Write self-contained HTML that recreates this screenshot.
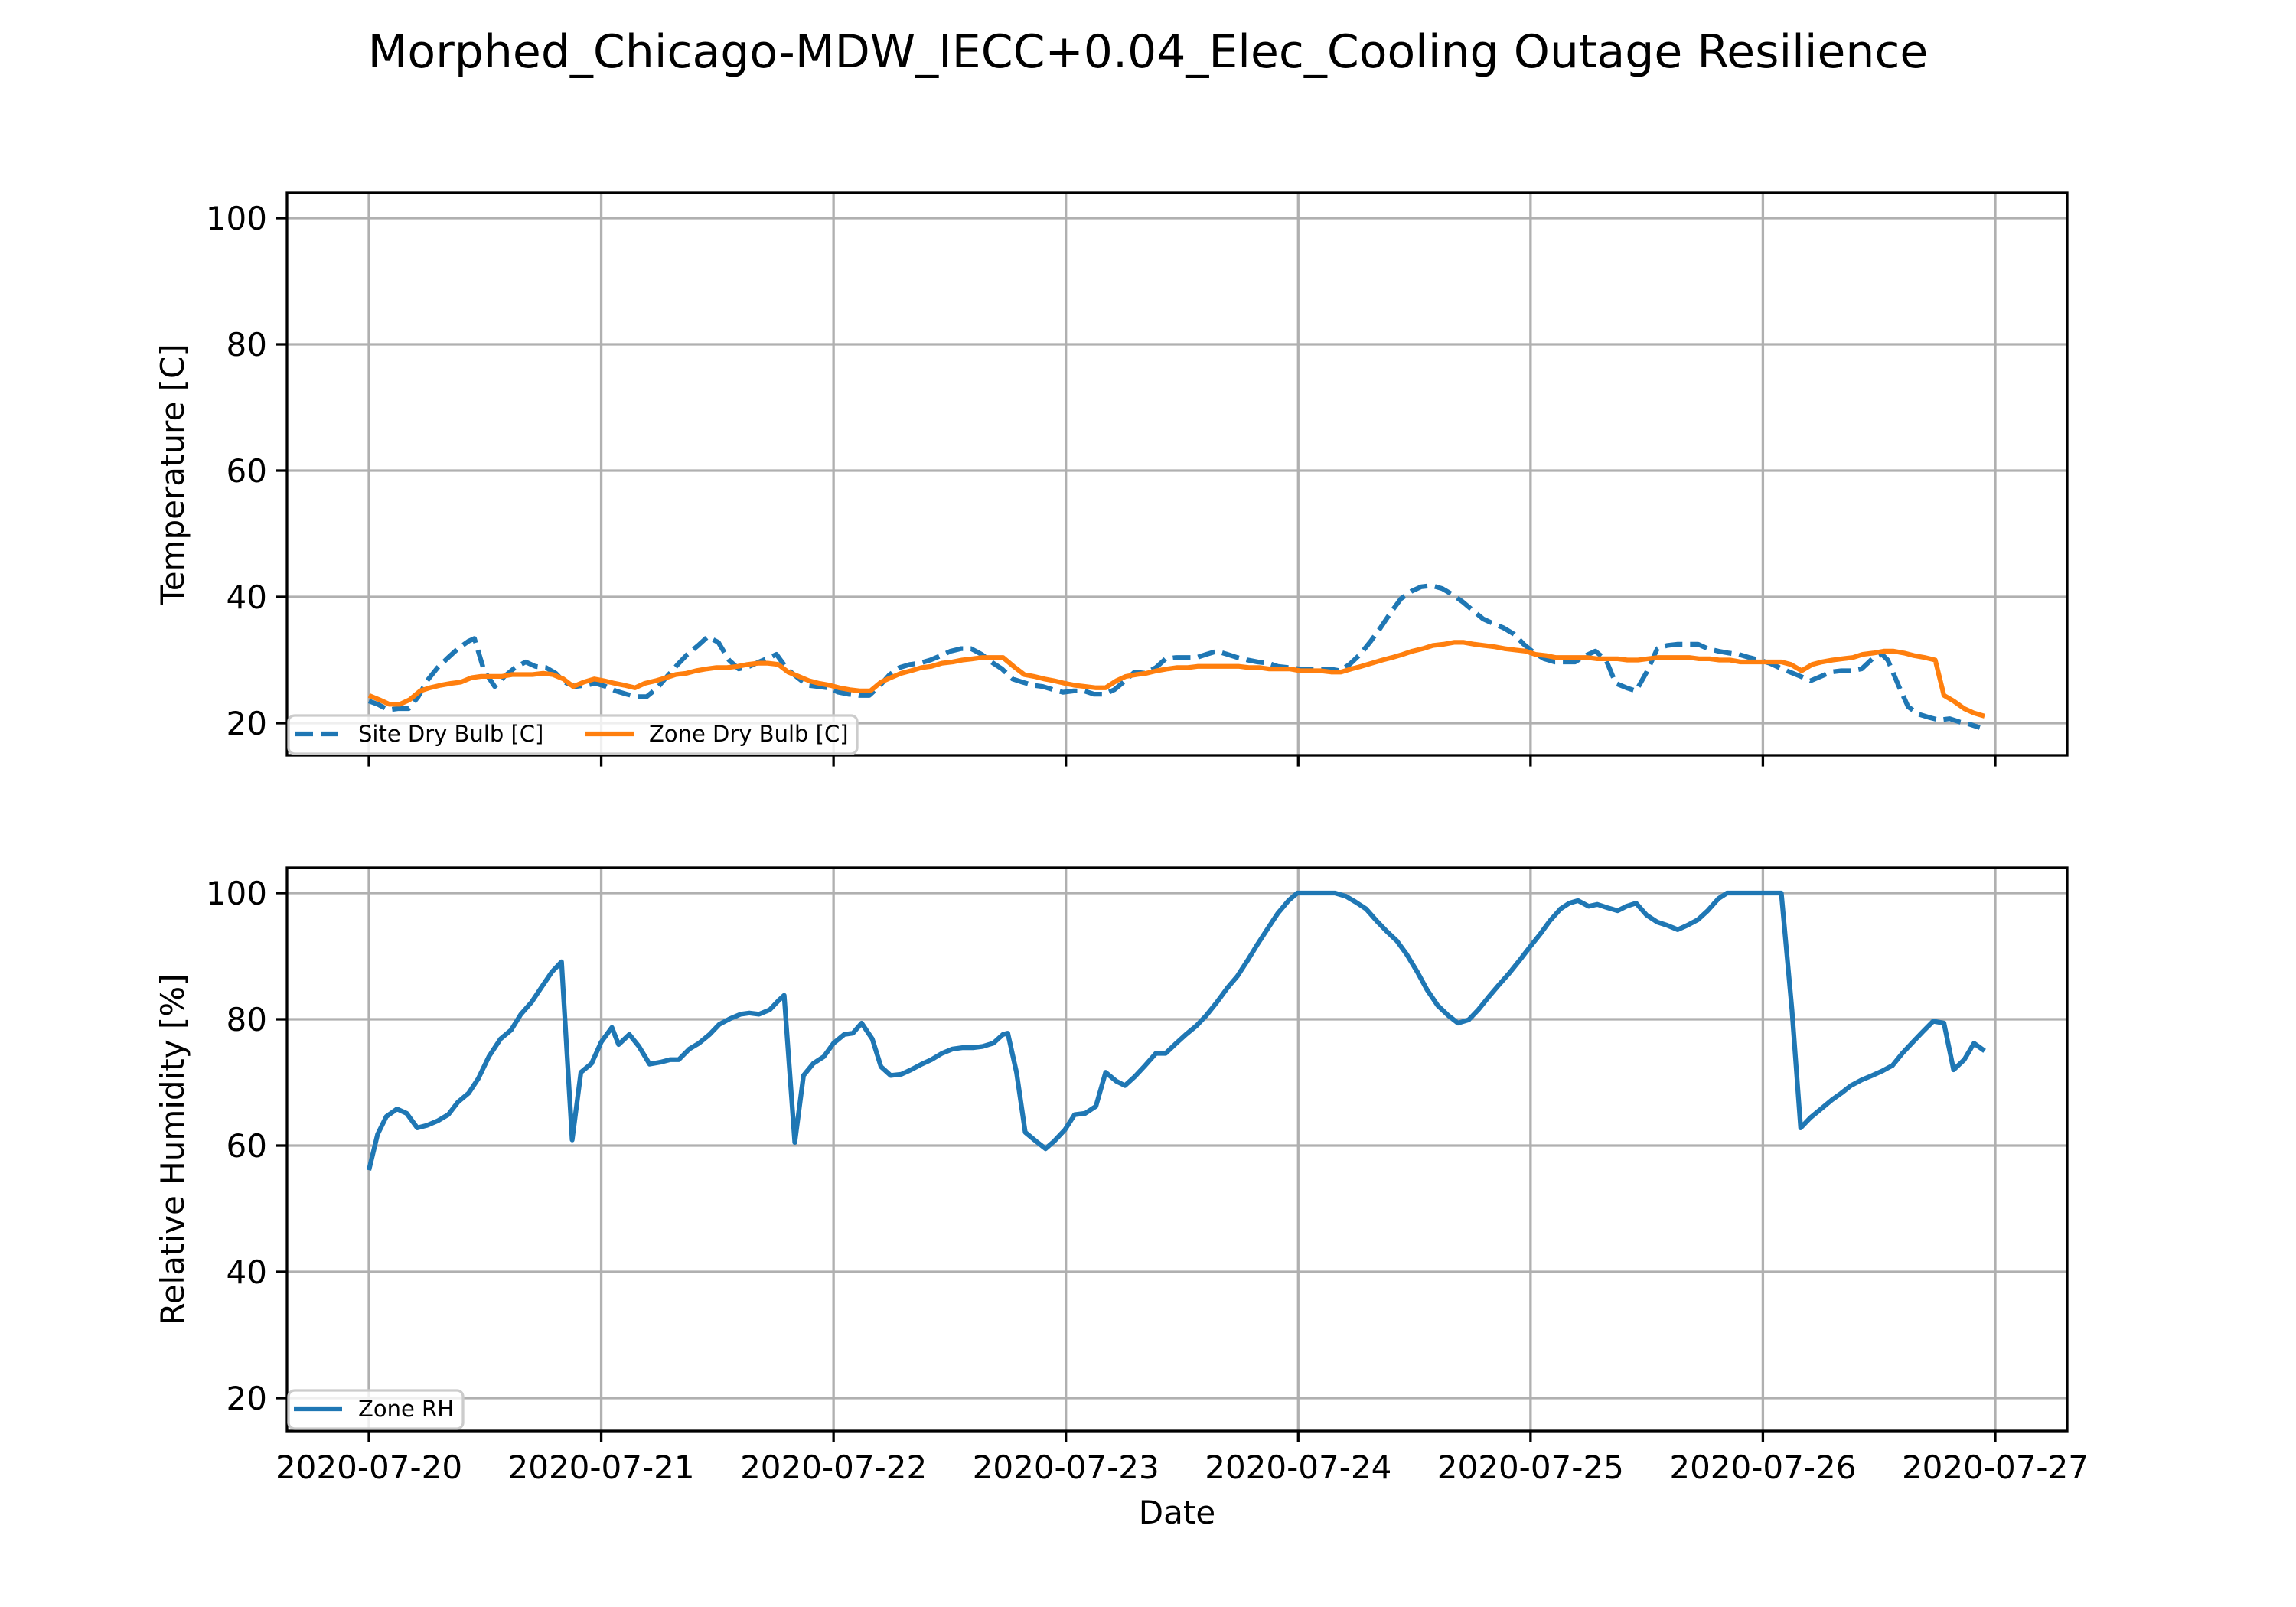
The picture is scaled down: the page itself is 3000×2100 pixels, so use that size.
<!DOCTYPE html>
<html><head><meta charset="utf-8"><title>Outage Resilience</title>
<style>html,body{margin:0;padding:0;background:#fff}svg{display:block}text{font-family:"DejaVu Sans","Liberation Sans",sans-serif}</style>
</head><body>
<svg id="fig" xmlns="http://www.w3.org/2000/svg" width="3000" height="2100" viewBox="0 0 3000 2100">
<rect width="3000" height="2100" fill="#fff"/>
<text x="1500" y="88" font-size="60" text-anchor="middle">Morphed_Chicago-MDW_IECC+0.04_Elec_Cooling Outage Resilience</text>
<g id="top"></g>
<g id="bot"></g>
<text x="1538" y="1991" font-size="42" text-anchor="middle">Date</text>
<text transform="translate(240,620) rotate(-90)" font-size="42" text-anchor="middle">Temperature [C]</text>
<text transform="translate(240,1502) rotate(-90)" font-size="42" text-anchor="middle">Relative Humidity [%]</text>
</svg>
<script>
const xTickLabels = ["2020-07-20","2020-07-21","2020-07-22","2020-07-23","2020-07-24","2020-07-25","2020-07-26","2020-07-27"];
const yTicks = [20,40,60,80,100];
const rhHours = [0,0.9,1.8,2.9,3.9,5.0,6.0,7.1,8.2,9.2,10.3,11.3,12.4,13.6,14.7,15.7,16.8,17.8,18.9,19.9,21.0,21.9,23.0,24.0,25.1,25.8,26.9,27.9,29.0,30.1,31.1,32.0,33.1,34.1,35.2,36.2,37.3,38.4,39.3,40.3,41.4,42.4,42.9,44.0,44.9,45.9,47.0,48.0,49.1,50.0,50.9,52.0,52.9,53.9,55.0,56.0,57.1,58.1,59.2,60.3,61.3,62.4,63.4,64.5,65.5,66.0,66.9,67.8,68.9,69.9,70.8,71.9,72.9,74.0,75.1,76.1,77.2,78.1,79.1,80.2,81.3,82.3,83.4,84.4,85.5,86.5,87.6,88.7,89.7,90.8,91.8,92.9,93.9,95.0,95.9,99.8,100.9,101.9,103.0,104.1,105.1,106.2,107.2,108.3,109.3,110.4,111.5,112.5,113.6,114.6,115.7,116.7,117.8,118.9,119.9,121.0,122.0,123.1,124.0,124.9,126.0,126.9,127.9,129.0,129.9,130.9,132.0,133.1,134.1,135.2,136.2,137.3,138.3,139.4,140.3,145.9,147.0,147.9,148.9,150.0,151.1,152.1,153.1,154.2,155.3,156.3,157.4,158.4,159.5,160.5,161.6,162.7,163.7,164.8,165.8,166.9];
const rhValues = [56.1,61.8,64.6,65.8,65.1,62.8,63.2,63.9,64.9,66.9,68.3,70.6,74.1,76.9,78.3,80.8,82.7,85.0,87.5,89.1,60.9,71.6,73.0,76.4,78.7,76.0,77.6,75.7,72.9,73.2,73.6,73.6,75.3,76.2,77.6,79.2,80.1,80.8,81.0,80.8,81.5,83.1,83.8,60.5,71.1,73.0,74.1,76.2,77.6,77.8,79.4,76.9,72.5,71.1,71.3,72.0,72.9,73.6,74.6,75.3,75.5,75.5,75.7,76.2,77.6,77.8,71.6,62.1,60.7,59.5,60.7,62.5,64.9,65.1,66.2,71.6,70.2,69.5,70.9,72.7,74.6,74.6,76.2,77.6,79.0,80.6,82.7,85.0,86.8,89.4,91.9,94.5,96.8,98.8,100,100,99.5,98.6,97.5,95.6,94.0,92.4,90.3,87.5,84.7,82.2,80.6,79.4,79.9,81.5,83.6,85.4,87.3,89.4,91.4,93.5,95.6,97.5,98.4,98.8,97.9,98.2,97.7,97.2,97.9,98.4,96.5,95.4,94.9,94.2,94.9,95.8,97.2,99.1,100,100,81.5,62.8,64.4,65.8,67.2,68.3,69.5,70.4,71.1,71.8,72.7,74.6,76.4,78.0,79.7,79.4,72.0,73.6,76.2,75.0];
const siteHours = [0,0.9,2.0,3.0,4.1,5.1,6.0,7.1,8.2,9.2,10.3,10.9,11.9,13.0,14.0,15.1,16.2,17.2,18.3,19.3,20.2,21.3,22.4,23.4,24.5,25.5,26.6,27.6,28.7,29.8,30.8,31.9,32.9,34.0,35.0,36.1,37.2,38.2,39.3,40.3,41.4,42.1,43.2,44.3,45.3,46.4,47.4,48.5,49.5,50.6,51.7,52.7,53.8,54.8,55.9,56.9,58.0,59.1,60.1,61.2,62.2,63.3,64.3,65.4,66.5,67.5,68.6,69.6,70.7,71.7,72.8,73.9,74.9,76.0,77.0,78.1,79.1,80.2,81.3,82.3,83.4,84.4,85.5,86.5,87.6,88.7,89.7,90.8,91.8,92.9,93.9,95.0,96.1,97.1,98.2,99.2,100.3,101.3,102.4,103.5,104.5,105.6,106.6,107.7,108.7,109.8,110.9,111.9,113.0,114.0,115.1,116.1,117.2,118.3,119.3,120.4,121.4,122.5,123.5,124.6,125.7,126.7,127.8,128.8,129.9,130.9,132.0,133.1,134.1,135.2,136.2,137.3,138.3,139.4,140.5,141.5,142.6,143.6,144.7,145.7,146.8,147.9,148.9,150.0,151.0,152.1,153.1,154.2,155.3,156.3,156.9,158.0,159.0,160.1,161.2,162.2,163.3,164.3,165.4,166.4];
const siteValues = [23.5,23.0,22.1,22.3,22.3,24.2,26.7,28.8,30.4,31.8,33.0,33.4,28.3,25.8,27.4,28.8,29.7,29.0,28.8,27.9,26.5,25.8,26.0,26.3,25.8,25.1,24.6,24.2,24.2,25.6,27.4,29.3,30.9,32.3,33.7,32.8,30.0,28.6,29.0,29.7,30.4,30.9,28.6,27.2,26.0,25.8,25.6,24.9,24.6,24.4,24.4,25.8,27.7,28.8,29.3,29.5,30.0,30.7,31.4,31.8,31.8,30.9,29.7,28.6,27.0,26.5,26.0,25.8,25.3,24.9,25.1,25.1,24.6,24.6,25.3,26.7,28.1,27.9,28.8,30.2,30.4,30.4,30.4,30.9,31.4,30.9,30.4,30.0,29.7,29.5,29.0,28.8,28.6,28.6,28.6,28.6,28.3,29.3,30.9,33.0,35.1,37.6,39.7,40.9,41.6,41.8,41.3,40.4,39.2,37.9,36.5,35.8,35.1,34.1,32.5,31.1,30.2,29.7,29.7,29.7,30.7,31.4,30.0,26.3,25.6,25.1,28.1,31.8,32.3,32.5,32.5,32.5,31.8,31.4,31.1,30.9,30.4,30.0,29.5,28.8,28.1,27.4,26.7,27.4,28.1,28.3,28.3,28.6,30.2,30.9,30.0,26.0,22.6,21.4,20.9,20.5,20.7,20.2,19.8,19.3];
const zoneHours = [0,1.1,2.1,3.2,4.2,5.3,6.3,7.4,8.5,9.5,10.6,11.6,12.7,13.7,14.8,15.9,16.9,18.0,19.0,20.1,21.1,22.2,23.3,24.3,25.4,26.4,27.5,28.5,29.6,30.7,31.7,32.8,33.8,34.9,35.9,37.0,38.1,39.1,40.2,41.2,42.3,43.3,44.4,45.5,46.5,47.6,48.6,49.7,50.7,51.8,52.9,53.9,55.0,56.0,57.1,58.1,59.2,60.3,61.3,62.4,63.4,64.5,65.5,66.6,67.7,68.7,69.8,70.8,71.9,72.9,74.0,75.1,76.1,77.2,78.2,79.3,80.3,81.4,82.5,83.5,84.6,85.6,86.7,87.7,88.8,89.9,90.9,92.0,93.0,94.1,95.1,96.2,97.3,98.3,99.4,100.4,101.5,102.5,103.6,104.7,105.7,106.8,107.8,108.9,109.9,111.0,112.1,113.1,114.2,115.2,116.3,117.3,118.4,119.5,120.5,121.6,122.6,123.7,124.7,125.8,126.9,127.9,129.0,130.0,131.1,132.1,133.2,134.3,135.3,136.4,137.4,138.5,139.5,140.6,141.7,142.7,143.8,144.8,145.9,146.9,148.0,149.1,150.1,151.2,152.2,153.3,154.3,155.4,156.5,157.5,158.6,159.6,160.7,161.8,162.7,163.7,164.8,165.8,166.9];
const zoneValues = [24.4,23.7,23.0,23.0,23.7,25.1,25.6,26.0,26.3,26.5,27.2,27.4,27.4,27.4,27.7,27.7,27.7,27.9,27.7,27.0,25.8,26.5,27.0,26.7,26.3,26.0,25.6,26.3,26.7,27.2,27.7,27.9,28.3,28.6,28.8,28.8,29.0,29.3,29.5,29.5,29.3,28.1,27.4,26.7,26.3,26.0,25.6,25.3,25.1,25.1,26.5,27.2,27.9,28.3,28.8,29.0,29.5,29.7,30.0,30.2,30.4,30.4,30.4,29.0,27.7,27.4,27.0,26.7,26.3,26.0,25.8,25.6,25.6,26.7,27.4,27.7,27.9,28.3,28.6,28.8,28.8,29.0,29.0,29.0,29.0,29.0,28.8,28.8,28.6,28.6,28.6,28.3,28.3,28.3,28.1,28.1,28.6,29.0,29.5,30.0,30.4,30.9,31.4,31.8,32.3,32.5,32.8,32.8,32.5,32.3,32.1,31.8,31.6,31.4,30.9,30.7,30.4,30.4,30.4,30.4,30.2,30.2,30.2,30.0,30.0,30.2,30.4,30.4,30.4,30.4,30.2,30.2,30.0,30.0,29.7,29.7,29.7,29.7,29.7,29.3,28.3,29.3,29.7,30.0,30.2,30.4,30.9,31.1,31.4,31.4,31.1,30.7,30.4,30.0,24.4,23.5,22.3,21.6,21.1];

const NS = "http://www.w3.org/2000/svg";
const L = 375, R = 2701, X0 = 482, DAY = 303.57;
const xScale = h => X0 + h / 24 * DAY;
function mk(tag, attrs, parent) {
  const e = document.createElementNS(NS, tag);
  for (const k in attrs) e.setAttribute(k, attrs[k]);
  parent.appendChild(e);
  return e;
}
function linePath(hours, vals, ys) {
  const n = Math.min(hours.length, vals.length);
  let d = "";
  for (let i = 0; i < n; i++) d += (i ? "L" : "M") + xScale(hours[i]).toFixed(1) + "," + ys(vals[i]).toFixed(1);
  return d;
}
function panel(g, top, bottom, y100, showXLabels) {
  const ys = v => y100 + (100 - v) * 8.25;
  xTickLabels.forEach((lab, i) => {
    const x = X0 + i * DAY;
    const gl = mk("line", {x1: x, x2: x, y1: top, y2: bottom, stroke: "#b0b0b0", "stroke-width": 3.3}, g);
    
    
    const tk = mk("line", {x1: x, x2: x, y1: bottom, y2: bottom + 14.6, stroke: "#000", "stroke-width": 3.3}, g);
    
    
    if (showXLabels) {
      const t = mk("text", {x: x, y: 1932, "font-size": 42, "text-anchor": "middle"}, g);
      t.textContent = lab;
      
      
    }
  });
  yTicks.forEach(v => {
    const y = ys(v);
    const gl = mk("line", {x1: L, x2: R, y1: y, y2: y, stroke: "#b0b0b0", "stroke-width": 3.3}, g);
    
    
    const tk = mk("line", {x1: L - 14.6, x2: L, y1: y, y2: y, stroke: "#000", "stroke-width": 3.3}, g);
    
    
    const t = mk("text", {x: L - 26, y: y + 15, "font-size": 42, "text-anchor": "end"}, g);
    t.textContent = String(v);
    
    
  });
  return ys;
}
function frame(g, top, bottom) {
  const f = mk("rect", {x: L, y: top, width: R - L, height: bottom - top, fill: "none", stroke: "#000", "stroke-width": 3.3}, g);
  
  
}
function legendBox(g, x, y, w, h) {
  const b = mk("rect", {x: x, y: y, width: w, height: h, rx: 8, fill: "#fff", "fill-opacity": 0.8, stroke: "#cccccc", "stroke-width": 3.3}, g);
  
  
}

const gt = document.getElementById("top");
const ysT = panel(gt, 252, 987, 285, false);
const site = mk("path", {d: linePath(siteHours, siteValues, ysT), fill: "none", stroke: "#1f77b4", "stroke-width": 6.25, "stroke-dasharray": "23,10", "stroke-linejoin": "round"}, gt);


const zone = mk("path", {d: linePath(zoneHours, zoneValues, ysT), fill: "none", stroke: "#ff7f0e", "stroke-width": 6.25, "stroke-linejoin": "round"}, gt);


frame(gt, 252, 987);
legendBox(gt, 377, 935, 743, 50);
const l1 = mk("line", {x1: 386, x2: 443, y1: 959, y2: 959, stroke: "#1f77b4", "stroke-width": 6.25, "stroke-dasharray": "23,10"}, gt);


const t1 = mk("text", {x: 468, y: 969, "font-size": 29}, gt);
t1.textContent = "Site Dry Bulb [C]";


const l2 = mk("line", {x1: 764, x2: 828, y1: 959, y2: 959, stroke: "#ff7f0e", "stroke-width": 6.25}, gt);


const t2 = mk("text", {x: 848, y: 969, "font-size": 29}, gt);
t2.textContent = "Zone Dry Bulb [C]";



const gb = document.getElementById("bot");
const ysB = panel(gb, 1134, 1870, 1167, true);
const rh = mk("path", {d: linePath(rhHours, rhValues, ysB), fill: "none", stroke: "#1f77b4", "stroke-width": 6.25, "stroke-linejoin": "round"}, gb);


frame(gb, 1134, 1870);
legendBox(gb, 377, 1817, 228, 50);
const l3 = mk("line", {x1: 384, x2: 447, y1: 1841, y2: 1841, stroke: "#1f77b4", "stroke-width": 6.25}, gb);


const t3 = mk("text", {x: 468, y: 1851, "font-size": 29}, gb);
t3.textContent = "Zone RH";


</script>
</body></html>
